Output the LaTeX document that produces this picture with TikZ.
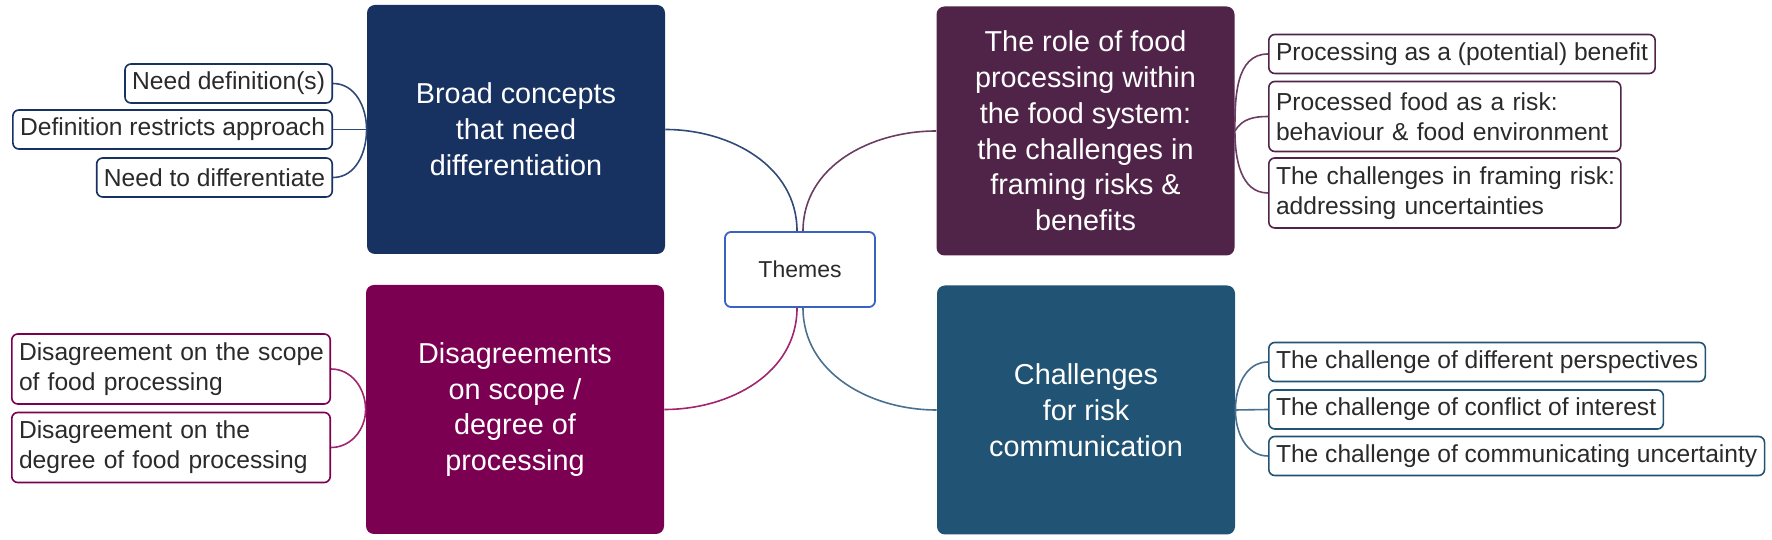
\documentclass[tikz,border=0pt]{standalone}
\usepackage{fontspec}
\setmainfont{Liberation Sans}
\definecolor{navy}{HTML}{173260}
\definecolor{plum}{HTML}{502448}
\definecolor{magen}{HTML}{7B0052}
\definecolor{steel}{HTML}{215374}
\definecolor{themesblue}{HTML}{3A62C4}
\definecolor{navyline}{HTML}{2F4A78}
\definecolor{plumline}{HTML}{6B3D63}
\definecolor{magline}{HTML}{A0246F}
\definecolor{steelline}{HTML}{4A7090}
\definecolor{leaftext}{HTML}{2A2A2A}
\begin{document}
\begin{tikzpicture}[x=0.5pt,y=0.5pt,
  mainbox/.style={rounded corners=4pt, minimum width=149pt, minimum height=124.5pt,
    inner sep=0pt, text=white, align=center, font=\fontsize{14.4}{17.9}\selectfont},
  leaf/.style={draw, line width=0.8pt, rounded corners=3pt, fill=white,
    inner xsep=3.6pt, inner ysep=0pt, align=left, text=leaftext,
    font=\fontsize{12.3}{15}\selectfont},
  one/.style={minimum height=19.5pt},
  two/.style={minimum height=35pt},
  conn/.style={line width=0.8pt}
]
\useasboundingbox (0,0) rectangle (1772,540);

% main boxes
\node[mainbox, fill=navy] (broad) at (516,410.5) {Broad concepts\\that need\\differentiation};
\node[mainbox, fill=plum] (role) at (1085.5,409) {The role of food\\processing within\\the food system:\\the challenges in\\framing risks \&\\benefits};
\node[mainbox, fill=magen] (dis) at (515,130.5) {Disagreements\\on scope /\\degree of\\processing};
\node[mainbox, fill=steel] (chal) at (1086,130) {Challenges\\for risk\\communication};

% centre
\node[draw=themesblue, line width=0.9pt, rounded corners=3pt, minimum width=75pt,
  minimum height=37.5pt, text=leaftext, font=\fontsize{11.5}{14}\selectfont] (themes) at (800,270.5) {Themes};

% leaves: broad
\node[leaf, one, draw=navy, anchor=east] (l1) at (333,456.5) {Need definition(s)};
\node[leaf, one, draw=navy, anchor=east] (l2) at (333,410.5) {Definition restricts approach};
\node[leaf, one, draw=navy, anchor=east] (l3) at (333,362.5) {Need to differentiate};

% leaves: disagreements
\node[leaf, two, draw=magen, anchor=east, text width=152pt] (d1) at (331,171) {\mbox{Disagreement on the scope}\\\mbox{of food processing}};
\node[leaf, two, draw=magen, anchor=east, text width=152pt] (d2) at (331,92.5) {\mbox{Disagreement on the}\\\mbox{degree of food processing}};

% leaves: role
\node[leaf, one, draw=plum, anchor=west] (r1) at (1268,486) {Processing as a (potential) benefit};
\node[leaf, two, draw=plum, anchor=west, text width=168.8pt] (r2) at (1268,423.5) {\mbox{Processed food as a risk:}\\\mbox{behaviour \& food environment}};
\node[leaf, two, draw=plum, anchor=west, text width=168.8pt] (r3) at (1268,347) {\mbox{The challenges in framing risk:}\\\mbox{addressing uncertainties}};

% leaves: challenges
\node[leaf, one, draw=steel, anchor=west] (c1) at (1268,178) {The challenge of different perspectives};
\node[leaf, one, draw=steel, anchor=west] (c2) at (1268,130.5) {The challenge of conflict of interest};
\node[leaf, one, draw=steel, anchor=west] (c3) at (1268,84) {The challenge of communicating uncertainty};

% central connectors
\draw[conn, navyline] (broad.east) to[out=0, in=90] ([xshift=-1.5pt]themes.north);
\draw[conn, plumline] (role.west) to[out=180, in=90] ([xshift=1.5pt]themes.north);
\draw[conn, magline] (dis.east) to[out=0, in=-90] ([xshift=-1.5pt]themes.south);
\draw[conn, steelline] (chal.west) to[out=180, in=-90] ([xshift=1.5pt]themes.south);

% leaf connectors
\draw[conn, navyline] (l1.east) to[out=0, in=90] (broad.west);
\draw[conn, navyline] (l2.east) -- (broad.west);
\draw[conn, navyline] (l3.east) to[out=0, in=-90] (broad.west);

\draw[conn, magline] (d1.east) to[out=0, in=90] (dis.west);
\draw[conn, magline] (d2.east) to[out=0, in=-90] (dis.west);

\draw[conn, plumline] (role.east) to[out=90, in=180] (r1.west);
\draw[conn, plumline] (role.east) to[out=60, in=180] (r2.west);
\draw[conn, plumline] (role.east) to[out=-90, in=180] (r3.west);

\draw[conn, steelline] (chal.east) to[out=90, in=180] (c1.west);
\draw[conn, steelline] (chal.east) -- (c2.west);
\draw[conn, steelline] (chal.east) to[out=-90, in=180] (c3.west);
\end{tikzpicture}
\end{document}
